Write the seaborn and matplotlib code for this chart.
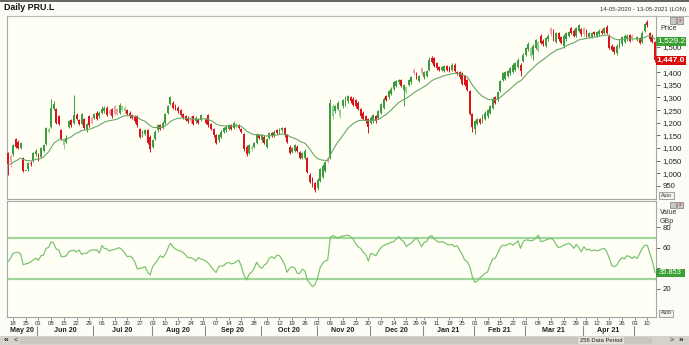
import numpy as np
import pandas as pd
import matplotlib
matplotlib.use("Agg")
import matplotlib.pyplot as plt
import seaborn as sns
from matplotlib.patches import Rectangle
from matplotlib.lines import Line2D
import matplotlib.transforms as mtransforms

# ---------------- data ----------------
start_date = "2020-05-14"
end_date = "2021-05-13"
closed_days = ["2020-12-25", "2020-12-28", "2021-01-01", "2021-04-02", "2021-04-05"]

opens = [1080, 1070, 1075, 1135, 1125, 1100, 1060,
         1010,
         1015, 1040, 1050, 1075, 1075, 1065, 1090, 1115, 1165, 1185,
         1255, 1255, 1225, 1170, 1110, 1125, 1185, 1210, 1200, 1230,
         1210, 1195, 1215, 1170, 1225, 1220, 1220, 1240, 1225, 1240,
         1245, 1260, 1250, 1255, 1265, 1255, 1240, 1250, 1245, 1250,
         1240, 1230, 1225, 1225, 1175, 1150, 1155, 1170, 1145, 1105,
         1135, 1170, 1190, 1180, 1200, 1240, 1275, 1280, 1270, 1260,
         1250, 1235, 1225, 1220, 1220, 1225, 1205, 1215, 1210,
         1230,
         1215, 1230, 1195, 1175, 1150, 1130, 1145, 1165, 1170, 1175,
         1190, 1180, 1185, 1190, 1175, 1155, 1105, 1080, 1095, 1105,
         1120, 1150, 1130, 1145, 1105, 1140, 1160, 1150, 1170, 1160,
         1170, 1180, 1150, 1105, 1085, 1090, 1105, 1085, 1060, 1060,
         1060, 995, 980, 960, 940, 970, 985, 1010, 1060, 1060,
         1225, 1245, 1255, 1225, 1265, 1270, 1285, 1300, 1295, 1290,
         1280, 1255, 1240, 1225, 1215, 1200, 1205, 1225, 1220, 1240,
         1260, 1305, 1300, 1315, 1335, 1345, 1360, 1370, 1330, 1320,
         1350, 1360, 1410, 1395, 1365, 1415, 1380, 1385, 1410, 1455,
         1455, 1435, 1420, 1410, 1405, 1425, 1420, 1410, 1430, 1400,
         1400, 1395, 1385, 1370, 1325, 1235, 1175, 1195, 1215, 1205,
         1215, 1225, 1240, 1260, 1300, 1290, 1325, 1370, 1375, 1385,
         1395, 1400, 1410, 1420, 1430, 1445, 1470, 1490, 1465, 1470,
         1495, 1485, 1545, 1525, 1505, 1530, 1575, 1565, 1520, 1555,
         1540, 1505, 1530, 1545, 1575, 1565, 1545, 1565, 1570, 1575,
         1565, 1540, 1540, 1560, 1545, 1550, 1565, 1555, 1580, 1545,
         1505, 1500, 1475, 1500, 1510, 1520, 1530, 1547, 1545,
         1530,
         1530, 1535, 1520, 1565, 1600, 1555, 1545, 1520]

closes = [1035, 1045, 1110, 1105, 1100, 1120, 1010,
          1010,
          1040, 1035, 1080, 1090, 1055, 1100, 1110, 1180, 1175, 1260,
          1275, 1200, 1195, 1135, 1130, 1140, 1205, 1190, 1230, 1215,
          1195, 1235, 1180, 1195, 1190, 1200, 1235, 1215, 1240, 1255,
          1260, 1230, 1235, 1225, 1235, 1235, 1270, 1265, 1260, 1235,
          1225, 1220, 1205, 1190, 1145, 1165, 1170, 1120, 1095, 1130,
          1165, 1190, 1175, 1200, 1235, 1265, 1300, 1260, 1255, 1245,
          1230, 1220, 1210, 1205, 1205, 1195, 1220, 1200, 1230,
          1230,
          1200, 1190, 1175, 1150, 1120, 1150, 1165, 1180, 1185, 1190,
          1175, 1200, 1195, 1180, 1165, 1095, 1075, 1110, 1105, 1120,
          1155, 1140, 1150, 1120, 1135, 1160, 1150, 1165, 1160, 1175,
          1180, 1150, 1125, 1080, 1100, 1110, 1090, 1060, 1080, 1090,
          1005, 965, 950, 935, 975, 1015, 1030, 1045, 1045, 1280,
          1265, 1265, 1280, 1250, 1290, 1300, 1305, 1285, 1270, 1265,
          1255, 1225, 1215, 1205, 1185, 1220, 1230, 1205, 1245, 1275,
          1295, 1290, 1325, 1335, 1360, 1365, 1370, 1345, 1350, 1340,
          1370, 1380, 1395, 1380, 1385, 1395, 1400, 1405, 1450, 1440,
          1425, 1415, 1410, 1420, 1425, 1410, 1405, 1430, 1405, 1395,
          1380, 1355, 1350, 1330, 1235, 1185, 1205, 1215, 1200, 1230,
          1240, 1250, 1265, 1295, 1280, 1320, 1365, 1395, 1400, 1405,
          1415, 1430, 1435, 1450, 1405, 1470, 1495, 1510, 1495, 1505,
          1528, 1520, 1515, 1510, 1535, 1545, 1550, 1530, 1555, 1530,
          1515, 1545, 1555, 1560, 1555, 1545, 1575, 1585, 1550, 1550,
          1545, 1555, 1555, 1550, 1560, 1565, 1555, 1575, 1555, 1495,
          1488, 1480, 1505, 1525, 1540, 1545, 1545, 1525, 1530,
          1530,
          1540, 1515, 1555, 1590, 1585, 1530, 1520, 1447]

highs = [1085, 1075, 1115, 1140, 1130, 1125, 1065,
         1010,
         1045, 1050, 1085, 1095, 1080, 1105, 1115, 1185, 1185, 1295,
         1285, 1260, 1230, 1175, 1135, 1150, 1210, 1215, 1310, 1240,
         1215, 1240, 1220, 1200, 1230, 1225, 1240, 1245, 1245, 1265,
         1265, 1265, 1255, 1260, 1270, 1260, 1280, 1270, 1265, 1255,
         1245, 1235, 1230, 1230, 1180, 1170, 1175, 1175, 1150, 1135,
         1170, 1195, 1195, 1205, 1240, 1270, 1307, 1285, 1275, 1265,
         1255, 1240, 1230, 1225, 1225, 1230, 1225, 1220, 1235,
         1230,
         1220, 1235, 1200, 1180, 1155, 1155, 1170, 1185, 1190, 1195,
         1195, 1205, 1200, 1195, 1180, 1160, 1110, 1115, 1110, 1125,
         1160, 1155, 1155, 1150, 1140, 1165, 1165, 1170, 1175, 1180,
         1185, 1185, 1155, 1110, 1105, 1115, 1110, 1090, 1085, 1095,
         1065, 1000, 985, 965, 980, 1020, 1035, 1050, 1065, 1295,
         1275, 1270, 1285, 1255, 1295, 1305, 1310, 1305, 1300, 1295,
         1285, 1260, 1245, 1230, 1220, 1225, 1235, 1230, 1250, 1280,
         1300, 1310, 1330, 1340, 1365, 1370, 1375, 1375, 1355, 1345,
         1375, 1385, 1415, 1400, 1390, 1420, 1405, 1410, 1460, 1465,
         1460, 1440, 1425, 1425, 1430, 1430, 1425, 1435, 1435, 1405,
         1405, 1400, 1390, 1375, 1330, 1240, 1210, 1220, 1220, 1235,
         1245, 1255, 1270, 1300, 1305, 1325, 1370, 1400, 1405, 1410,
         1420, 1435, 1440, 1455, 1435, 1475, 1500, 1520, 1500, 1510,
         1533, 1525, 1550, 1530, 1540, 1550, 1580, 1570, 1560, 1560,
         1545, 1550, 1560, 1565, 1580, 1570, 1580, 1590, 1575, 1580,
         1570, 1560, 1560, 1565, 1565, 1570, 1570, 1580, 1585, 1550,
         1510, 1505, 1510, 1530, 1545, 1550, 1550, 1552, 1550,
         1530,
         1545, 1540, 1565, 1595, 1605, 1560, 1550, 1525]

lows = [995, 1025, 1070, 1100, 1095, 1095, 1005,
        1010,
        1010, 1030, 1045, 1070, 1050, 1060, 1085, 1110, 1160, 1180,
        1250, 1195, 1190, 1130, 1095, 1120, 1180, 1185, 1195, 1210,
        1190, 1190, 1175, 1165, 1185, 1195, 1215, 1210, 1220, 1235,
        1240, 1225, 1230, 1220, 1230, 1230, 1235, 1245, 1240, 1230,
        1220, 1215, 1200, 1185, 1140, 1145, 1150, 1115, 1085, 1100,
        1130, 1165, 1170, 1175, 1195, 1235, 1270, 1255, 1250, 1240,
        1225, 1215, 1205, 1200, 1200, 1190, 1200, 1195, 1205,
        1230,
        1195, 1185, 1170, 1145, 1115, 1125, 1140, 1160, 1165, 1170,
        1170, 1175, 1180, 1175, 1160, 1090, 1070, 1075, 1090, 1100,
        1115, 1135, 1125, 1115, 1100, 1135, 1145, 1145, 1155, 1155,
        1165, 1145, 1120, 1075, 1080, 1085, 1085, 1055, 1055, 1055,
        1000, 960, 945, 925, 935, 965, 980, 1005, 1040, 1055,
        1215, 1240, 1250, 1220, 1260, 1265, 1280, 1280, 1265, 1260,
        1250, 1220, 1210, 1200, 1160, 1195, 1200, 1200, 1215, 1235,
        1255, 1285, 1295, 1310, 1330, 1340, 1355, 1340, 1265, 1315,
        1345, 1355, 1390, 1375, 1360, 1390, 1375, 1380, 1405, 1435,
        1420, 1410, 1405, 1405, 1400, 1405, 1400, 1405, 1400, 1390,
        1375, 1350, 1345, 1325, 1230, 1165, 1155, 1190, 1195, 1200,
        1210, 1220, 1235, 1255, 1275, 1285, 1320, 1365, 1370, 1380,
        1390, 1395, 1405, 1415, 1385, 1440, 1465, 1485, 1455, 1450,
        1490, 1480, 1510, 1505, 1500, 1525, 1545, 1525, 1515, 1525,
        1510, 1495, 1525, 1540, 1550, 1540, 1540, 1560, 1545, 1545,
        1540, 1535, 1535, 1545, 1540, 1545, 1550, 1550, 1550, 1490,
        1483, 1472, 1470, 1495, 1505, 1515, 1525, 1520, 1525,
        1530,
        1525, 1510, 1515, 1560, 1580, 1525, 1515, 1440]

rsi_values = [46.6, 50, 54.7, 55.5, 55.7, 54, 43.5,
              44.5,
              45, 46.5, 48.5, 50, 48, 52.4, 53, 59.6, 60.5, 66,
              64.5, 59, 58, 51.5, 51.5, 52.4, 56.3, 57.5, 57.8, 56,
              58, 53.7, 54.7, 54.7, 57, 58, 58, 58, 55, 62.3,
              59.5, 59, 57, 58, 58.5, 59.5, 60.2, 58, 55, 51.5,
              52, 50.5, 46, 39.4, 40, 40.7, 41.7, 36.5, 33.6, 41.7,
              45, 48.2, 52.4, 50.5, 53.7, 59.6, 64.5, 61.2, 59, 57.5,
              57, 55.7, 53.1, 50.5, 50.5, 49.5, 47.2, 50.5, 49.2,
              48.5,
              47, 45, 41.7, 38.5, 36, 41.7, 42.4, 42.7, 45, 45.9,
              44.3, 45, 46.6, 48.2, 41.7, 33.6, 28.7, 34.2, 36.2, 40,
              46, 42, 40.1, 43.3, 45, 50, 51.5, 49.5, 53, 52.4,
              48.5, 44, 36.2, 40.1, 41.7, 40.7, 35.2, 35.2, 39.4, 37.5,
              28.7, 25.5, 22.2, 24.5, 30.3, 40.7, 45, 47.2, 48.2, 70,
              72, 71, 69.5, 71, 71.5, 72, 72.6, 71, 68.7, 64.5,
              61, 59.6, 55.7, 53.7, 47.2, 54.7, 53.7, 52.4, 57, 60.2,
              62.2, 63.5, 64.5, 65.4, 66.1, 68.7, 71, 67.7, 66.1, 61.2,
              63.5, 64.5, 67.7, 70, 66.1, 61.2, 65.4, 66.1, 71, 72,
              68.7, 66.7, 65.4, 66.1, 65.4, 63.5, 62.8, 63.5, 61.2, 62.2,
              58, 53.7, 48.2, 46.6, 41.7, 32, 26.4, 27.7, 31, 33,
              35.2, 36.5, 43.3, 49.2, 49.8, 54.7, 60.2, 62.8, 62.2, 63.5,
              64.5, 62.8, 64.5, 67, 59.6, 66.1, 67.7, 67.7, 67, 67.5,
              69.3, 72.6, 66.1, 66.7, 67.7, 68.7, 69.3, 67.7, 63.5, 60.2,
              61.2, 62.8, 63.5, 64.5, 62.8, 59.6, 63.5, 60.2, 56.3, 61.2,
              58, 58.9, 57, 58, 57, 58, 58.9, 59.6, 56.3, 49.8,
              42.7, 41.7, 43.3, 48.2, 50.5, 49.2, 52.4, 51.5, 49.8,
              51.5,
              49.8, 54.7, 59.6, 62.8, 62.5, 54.7, 46.6, 35.853]

price_ticks = [950, 1000, 1050, 1100, 1150, 1200, 1250, 1300, 1350, 1400, 1450, 1500]
price_hidden = [1450]          # label sits under the last-close box
rsi_ticks = [20, 40, 60, 80]
rsi_hidden = [40]              # label sits under the last-value box
rsi_bands = [70, 30]
ma_span = 20
title_text = "Daily PRU.L"
range_text = "14-05-2020 - 13-05-2021 (LON)"
ma_label = "1,529.2"
close_label = "1,447.0"
rsi_label = "35.853"
period_text = "256 Data Period"

# ---------------- frame ----------------
dates = pd.bdate_range(start_date, end_date)
dates = dates[~dates.isin(pd.to_datetime(closed_days))]
n = len(dates)
for arr in (opens, closes, highs, lows, rsi_values):
    assert len(arr) == n, (len(arr), n)

df = pd.DataFrame({"date": dates, "idx": np.arange(n), "open": opens,
                   "close": closes, "high": highs, "low": lows, "rsi": rsi_values})
df["ma"] = df["close"].ewm(span=ma_span, adjust=False).mean()

sns.set_theme(style="white")
plt.rcParams["font.family"] = ["Liberation Sans", "DejaVu Sans"]

W, H = 689, 345
fig = plt.figure(figsize=(W / 100, H / 100), dpi=100)
fig.patch.set_facecolor("#fcfcf7")


def fx(px):
    return px / W


def fy(py):
    return 1 - py / H


PLOT_BG = "#fffff6"
SPINE = "#a6a6a6"
ax_p = fig.add_axes([fx(7), fy(199), (656 - 7) / W, (199 - 16) / H])
ax_r = fig.add_axes([fx(7), fy(317), (656 - 7) / W, (317 - 201) / H])

for ax in (ax_p, ax_r):
    ax.set_facecolor(PLOT_BG)
    for s in ax.spines.values():
        s.set_color(SPINE)
        s.set_linewidth(0.8)

# candles
DG, LG, DR, LR = "#3f9b3f", "#93cf8e", "#d8141c", "#e9a2a6"
o = df["open"].to_numpy(float)
c = df["close"].to_numpy(float)
prev = df["close"].shift(1).fillna(df["open"]).to_numpy(float)
up = c >= o
agree = np.where(up, c >= prev, c < prev)
colors = np.where(up, np.where(agree, DG, LG), np.where(agree, DR, LR))
ax_p.vlines(df["idx"], df["low"], df["high"], colors=colors, lw=0.7, zorder=2)
ax_p.bar(df["idx"], np.maximum(np.abs(c - o), 2.5), bottom=np.minimum(o, c),
         width=0.75, color=colors, linewidth=0, zorder=3)
sns.lineplot(x=df["idx"], y=df["ma"], ax=ax_p, color="#68a864", linewidth=0.8, zorder=4)

# RSI
for b in rsi_bands:
    ax_r.axhline(b, color="#a0d69b", lw=1.6, zorder=1)
sns.lineplot(x=df["idx"], y=df["rsi"], ax=ax_r, color="#76c26a", linewidth=0.85, zorder=3)

x0, x1 = -0.4, 255.4
ax_p.set_xlim(x0, x1)
ax_r.set_xlim(x0, x1)
ax_p.set_ylim(898, 1622.6)
ax_r.set_ylim(-7.4, 105.8)
for ax in (ax_p, ax_r):
    ax.set_xlabel("")
    ax.set_ylabel("")
    ax.yaxis.tick_right()
    ax.tick_params(axis="y", right=True, left=False, length=3, width=0.6, pad=1.5,
                   labelsize=5.6, colors="#555", labelcolor="#222")

ax_p.set_xticks([])
ax_p.set_yticks(price_ticks)
ax_p.set_yticklabels(["" if v in price_hidden else f"{v:,}" for v in price_ticks])
ax_r.set_yticks(rsi_ticks)
ax_r.set_yticklabels(["" if v in rsi_hidden else str(v) for v in rsi_ticks])

# week labels
iso = df["date"].dt.isocalendar()
wk = df.groupby([iso["year"], iso["week"]])["idx"].min().sort_values().to_numpy()
wk = [j for j in wk if not (j == 0 and df["date"].iloc[0].weekday() != 0)]
ax_r.set_xticks(wk)
ax_r.set_xticklabels([df["date"].iloc[j].strftime("%d") for j in wk])
ax_r.tick_params(axis="x", bottom=True, length=2, width=0.5, pad=1.2,
                 labelsize=4.3, colors="#666", labelcolor="#333")

# month labels and separators
trans = mtransforms.blended_transform_factory(ax_r.transData, fig.transFigure)
mstart = df.groupby([df["date"].dt.year, df["date"].dt.month])["idx"].min().sort_values().to_numpy()
bounds = [x0] + [j - 0.4 for j in mstart[1:]] + [x1]
for j in mstart[1:]:
    ax_r.plot([j - 0.4, j - 0.4], [fy(326), fy(336)], transform=trans, color="#8a8a8a",
              lw=0.8, clip_on=False)
for k, j in enumerate(mstart):
    a, b = bounds[k], bounds[k + 1]
    if b - a > 10:
        ax_r.text((a + b) / 2, fy(331), df["date"].iloc[j].strftime("%b %y"), transform=trans,
                  ha="center", va="center", fontsize=5.1, fontweight="bold", color="#222")

# header
fig.add_artist(Line2D([0, 1], [fy(0.5), fy(0.5)], color="#4a4a4a", lw=1.2))
fig.add_artist(Line2D([fx(7), 1], [fy(15.5), fy(15.5)], color="#b8b8b8", lw=0.8))
fig.text(fx(4), fy(8), title_text, fontsize=6.4, fontweight="bold", va="center", color="#111")
fig.text(fx(686), fy(10), range_text, fontsize=4.4, ha="right", va="center", color="#333")


def box(x, y, w, h, fc, ec=None, lw=0.0):
    fig.add_artist(Rectangle((fx(x), fy(y + h)), w / W, h / H, transform=fig.transFigure,
                             facecolor=fc, edgecolor=ec if ec else fc, linewidth=lw))


def icons(y):
    box(670, y, 6, 6, "#c8c8c8", "#7a7a7a", 0.5)
    box(677, y, 6, 6, "#c8c8c8", "#7a7a7a", 0.5)
    fig.text(fx(680), fy(y + 3), "x", fontsize=4, ha="center", va="center", color="#b02020")


icons(17.5)
icons(202)
fig.text(fx(660), fy(28), "Price", fontsize=5.2, va="center", color="#333")
box(656, 36.5, 30, 9, "#3a9f35")
fig.text(fx(671), fy(41), ma_label, fontsize=6, ha="center", va="center", color="white")
box(656, 56.3, 30, 9, "#dd0a0a")
fig.text(fx(671), fy(60.8), close_label, fontsize=6, ha="center", va="center",
         color="white", fontweight="bold")
box(659, 192, 15, 7, "#f2f2ee", "#808080", 0.5)
fig.text(fx(666.5), fy(195.5), "Auto", fontsize=3.8, ha="center", va="center", color="#333")

fig.text(fx(660), fy(212.5), "Value", fontsize=5, va="center", color="#333")
fig.text(fx(660), fy(221.5), "GBp", fontsize=5, va="center", color="#333")
box(656, 268.5, 29, 8, "#3a9f35")
fig.text(fx(670.5), fy(272.5), rsi_label, fontsize=5.4, ha="center", va="center", color="white")
box(659, 309.5, 14, 7, "#f2f2ee", "#808080", 0.5)
fig.text(fx(666), fy(313), "Auto", fontsize=3.8, ha="center", va="center", color="#333")

# scroll bar
box(0, 336, W, 9, "#d5d2ca")
box(20, 337, 632, 7, "#c9c6bd")
box(578, 337, 46, 7, "#e2e0d9")
fig.text(fx(601), fy(340.5), period_text, fontsize=4.2, ha="center", va="center", color="#222")
fig.text(fx(4), fy(340.5), "«", fontsize=6, fontweight="bold", va="center", color="#222")
fig.text(fx(14), fy(340.5), "<", fontsize=5, va="center", color="#222")
fig.text(fx(670), fy(340.5), ">", fontsize=5, va="center", color="#222")
fig.text(fx(679), fy(340.5), "»", fontsize=6, fontweight="bold", va="center", color="#222")

fig.savefig("out.png", dpi=100, facecolor=fig.get_facecolor())
